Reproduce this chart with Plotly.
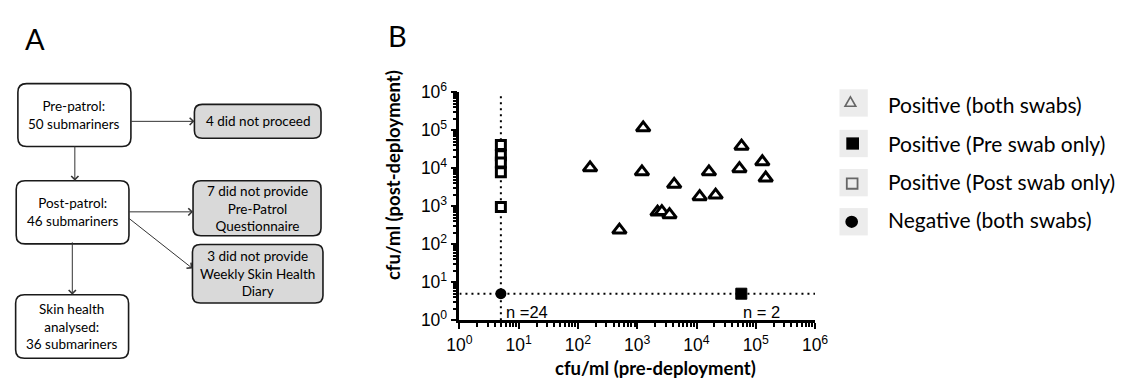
import math
import plotly.graph_objects as go

# ---------------- data (panel B) ----------------
LOD = 5  # limit of detection used for negative swabs (cfu/ml)

both_pre = [160, 500, 1260, 1200, 2200, 2600, 3500, 4200, 11300, 21000, 16200, 53000, 57500, 129000, 147000]
both_post = [10200, 235, 115000, 8000, 700, 720, 600, 3750, 1780, 1960, 8000, 9700, 38000, 14700, 5500]

pre_only_pre = [57000]
pre_only_post = [LOD]

post_only_pre = [LOD, LOD, LOD, LOD, LOD]
post_only_post = [41000, 22000, 14000, 7800, 950]

neg_pre = [LOD]
neg_post = [LOD]

n_neg_label = "n =24"
n_pre_only_label = "n = 2"

tick_exponents = [0, 1, 2, 3, 4, 5, 6]
tick_values = [10 ** e for e in tick_exponents]
tick_text = ["10<sup>%d</sup>" % e for e in tick_exponents]
minor_values = [k * 10 ** e for e in range(0, 6) for k in range(2, 10)]

legend_labels = ["Positive (both swabs)", "Positive (Pre swab only)",
                 "Positive (Post swab only)", "Negative (both swabs)"]

x_title = "cfu/ml (pre-deployment)"
y_title = "cfu/ml (post-deployment)"

# ---------------- panel A text ----------------
flow_main = ["Pre-patrol:<br>50 submariners", "Post-patrol:<br>46 submariners",
             "Skin health<br>analysed:<br>36 submariners"]
flow_side = ["4 did not proceed", "7 did not provide<br>Pre-Patrol<br>Questionnaire",
             "3 did not provide<br>Weekly Skin Health<br>Diary"]

# ---------------- layout helpers ----------------
W, H = 1126, 384
CAL = "Lato, 'Open Sans', sans-serif"
ARIAL = "'Liberation Sans', Arial, sans-serif"


def px(x):
    return x / W


def py(y):
    return 1 - y / H


def rrect(x0, y0, x1, y1, r=8):
    rx, ry = r / W, r / H
    X0, X1, Y0, Y1 = px(x0), px(x1), py(y0), py(y1)
    return (f"M{X0+rx},{Y0} L{X1-rx},{Y0} Q{X1},{Y0} {X1},{Y0-ry} "
            f"L{X1},{Y1+ry} Q{X1},{Y1} {X1-rx},{Y1} L{X0+rx},{Y1} "
            f"Q{X0},{Y1} {X0},{Y1+ry} L{X0},{Y0-ry} Q{X0},{Y0} {X0+rx},{Y0} Z")


fig = go.Figure()

# reference (LOD) lines
dot = dict(color="black", width=2, dash="2px,4px")
fig.add_trace(go.Scatter(x=[LOD, LOD], y=[tick_values[0], tick_values[-1]], mode="lines",
                         line=dot, showlegend=False, hoverinfo="skip"))
fig.add_trace(go.Scatter(x=[tick_values[0], tick_values[-1]], y=[LOD, LOD], mode="lines",
                         line=dot, showlegend=False, hoverinfo="skip"))

fig.add_trace(go.Scatter(x=both_pre, y=both_post, mode="markers", name=legend_labels[0],
                         marker=dict(symbol="triangle-up", size=12, color="white",
                                     line=dict(color="black", width=3)),
                         showlegend=False, cliponaxis=False))
fig.add_trace(go.Scatter(x=pre_only_pre, y=pre_only_post, mode="markers", name=legend_labels[1],
                         marker=dict(symbol="square", size=11, color="black",
                                     line=dict(color="black", width=1)),
                         showlegend=False, cliponaxis=False))
fig.add_trace(go.Scatter(x=post_only_pre, y=post_only_post, mode="markers", name=legend_labels[2],
                         marker=dict(symbol="square", size=9, color="white",
                                     line=dict(color="black", width=3)),
                         showlegend=False, cliponaxis=False))
fig.add_trace(go.Scatter(x=neg_pre, y=neg_post, mode="markers", name=legend_labels[3],
                         marker=dict(symbol="circle", size=11, color="black"),
                         showlegend=False, cliponaxis=False))

axis_common = dict(
    type="log", range=[0, 6], showline=True, linewidth=2.5, linecolor="black",
    ticks="outside", ticklen=6, tickwidth=2, tickcolor="black",
    tickmode="array", tickvals=tick_values, ticktext=tick_text,
    tickfont=dict(family=ARIAL, size=17.5, color="black"),
    showgrid=False, zeroline=False,
    minor=dict(ticks="outside", ticklen=3.5, tickwidth=1.5, tickcolor="black",
               tickmode="array", tickvals=minor_values, showgrid=False),
)

fig.update_layout(
    width=W, height=H, margin=dict(l=0, r=0, t=0, b=0),
    paper_bgcolor="white", plot_bgcolor="rgba(0,0,0,0)",
    showlegend=False,
    xaxis=dict(domain=[457 / W, 821 / W], anchor="y", ticklabelstandoff=1, **axis_common),
    yaxis=dict(domain=[1 - 327 / H, 1 - 85 / H], anchor="x", ticklabelstandoff=0, **axis_common),
)

shapes = []
annotations = []

# ---------------- panel A: flowchart ----------------
main_boxes = [(5, 76, 120.7, 142.7), (3.3, 179, 118.7, 246), (2.7, 300, 118.3, 367.3)]
side_boxes = [(185.7, 98, 315.3, 134), (184.3, 179, 315.3, 237.3), (183.7, 246.7, 317.3, 308.7)]

for (x0, y0, x1, y1), txt in zip(main_boxes, flow_main):
    shapes.append(dict(type="path", path=rrect(x0, y0, x1, y1, 9), xref="paper", yref="paper",
                       fillcolor="white", line=dict(color="#1a1a1a", width=1.6)))
    annotations.append(dict(x=px((x0 + x1) / 2), y=py((y0 + y1) / 2), xref="paper", yref="paper",
                            text=txt, showarrow=False, xanchor="center", yanchor="middle",
                            font=dict(family=CAL, size=13.5, color="black")))
for (x0, y0, x1, y1), txt in zip(side_boxes, flow_side):
    shapes.append(dict(type="path", path=rrect(x0, y0, x1, y1, 8), xref="paper", yref="paper",
                       fillcolor="#d9d9d9", line=dict(color="#1a1a1a", width=1.6)))
    annotations.append(dict(x=px((x0 + x1) / 2), y=py((y0 + y1) / 2), xref="paper", yref="paper",
                            text=txt, showarrow=False, xanchor="center", yanchor="middle",
                            font=dict(family=CAL, size=13.5, color="black")))

arrows = [((121, 116), (185.7, 116)), ((63.3, 143), (63.3, 179)), ((119, 212), (184.3, 212)),
          ((119, 221), (183.7, 272)), ((60.7, 246), (60.7, 300))]
for (tx, ty), (hx, hy) in arrows:
    annotations.append(dict(x=px(hx), y=py(hy), xref="paper", yref="paper", text="",
                            showarrow=True, ax=tx - hx, ay=ty - hy, arrowhead=4, arrowsize=1.4,
                            arrowwidth=1, arrowcolor="#333333", standoff=0, startstandoff=0))

# panel letters
annotations.append(dict(x=px(22.3), y=py(28), xref="paper", yref="paper", text="A", showarrow=False,
                        xanchor="center", yanchor="middle", font=dict(family=CAL, size=29, color="black")))
annotations.append(dict(x=px(393.7), y=py(24.5), xref="paper", yref="paper", text="B", showarrow=False,
                        xanchor="center", yanchor="middle", font=dict(family=CAL, size=29, color="black")))

# ---------------- panel B: titles & labels ----------------
annotations.append(dict(x=px(658), y=0, xref="paper", yref="paper", text="<b>%s</b>" % x_title,
                        showarrow=False, xanchor="center", yanchor="bottom", yshift=-7,
                        font=dict(family=CAL, size=18.5, color="black")))
annotations.append(dict(x=px(389), y=py(173), xref="paper", yref="paper", text="<b>%s</b>" % y_title,
                        showarrow=False, xanchor="center", yanchor="middle", textangle=-90,
                        font=dict(family=CAL, size=18.5, color="black")))
annotations.append(dict(x=math.log10(neg_pre[0]), y=math.log10(1.85), xref="x", yref="y",
                        text=n_neg_label, showarrow=False, xanchor="left", yanchor="middle", xshift=3,
                        yshift=-2, font=dict(family=ARIAL, size=16.5, color="black")))
annotations.append(dict(x=math.log10(pre_only_pre[0]), y=math.log10(1.85), xref="x", yref="y",
                        text=n_pre_only_label, showarrow=False, xanchor="left", yanchor="middle", xshift=0,
                        yshift=-2, font=dict(family=ARIAL, size=16.5, color="black")))

# ---------------- legend (drawn) ----------------
leg_rows = [96.5, 139.5, 181, 222.5]
text_rows = [98, 139, 180, 220]
for i, (cy, ty) in enumerate(zip(leg_rows, text_rows)):
    shapes.append(dict(type="rect", xref="paper", yref="paper", x0=px(846), x1=px(875),
                       y0=py(cy - 14.5), y1=py(cy + 14.5), fillcolor="#ececec", line=dict(width=0)))
    annotations.append(dict(x=px(894), y=py(ty), xref="paper", yref="paper", text=legend_labels[i],
                            showarrow=False, xanchor="left", yanchor="middle",
                            font=dict(family=CAL, size=21, color="black")))
# icons
shapes.append(dict(type="path", xref="paper", yref="paper",
                   path=f"M{px(851.7)},{py(100)} L{px(862.7)},{py(100)} L{px(857.2)},{py(90)} Z",
                   fillcolor="rgba(0,0,0,0)", line=dict(color="#666666", width=1.6)))
shapes.append(dict(type="rect", xref="paper", yref="paper", x0=px(853), x1=px(866), y0=py(146), y1=py(133),
                   fillcolor="black", line=dict(width=0)))
shapes.append(dict(type="rect", xref="paper", yref="paper", x0=px(853.5), x1=px(864.5), y0=py(187.5), y1=py(176.5),
                   fillcolor="rgba(0,0,0,0)", line=dict(color="#666666", width=1.8)))
shapes.append(dict(type="circle", xref="paper", yref="paper", x0=px(852), x1=px(865), y0=py(229), y1=py(216),
                   fillcolor="black", line=dict(width=0)))

fig.update_layout(shapes=shapes, annotations=annotations)
fig.write_html("out.html")
